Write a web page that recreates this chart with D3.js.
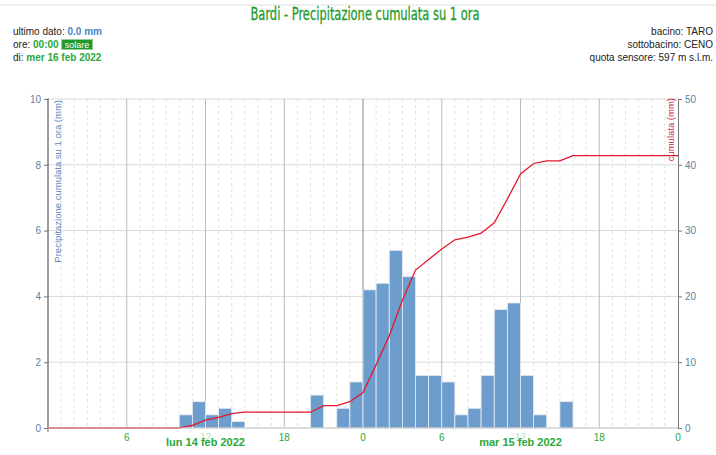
<!DOCTYPE html>
<html>
<head>
<meta charset="utf-8">
<script src="https://cdn.jsdelivr.net/npm/d3@7"></script>
<style>
  body { margin: 0; background: #fff; font-family: "Liberation Sans", Arial, sans-serif; }
  svg { display: block; }
</style>
</head>
<body>
<svg id="chart" width="716" height="455"></svg>
<script>
// hourly rain (mm), starting lun 14 feb 2022 00:00
var precip = [
  0, 0, 0, 0, 0, 0, 0, 0, 0, 0, 0.4, 0.8, 0.4, 0.6, 0.2, 0, 0, 0, 0, 0, 1.0, 0, 0.6, 1.4,
  4.2, 4.4, 5.4, 4.6, 1.6, 1.6, 1.4, 0.4, 0.6, 1.6, 3.6, 3.8, 1.6, 0.4, 0, 0.8, 0, 0, 0, 0, 0, 0, 0, 0
];
var startDay = new Date(2022, 1, 14, 0, 0);
var endDay = new Date(2022, 1, 16, 0, 0);
var dayLabels = ['lun 14 feb 2022', 'mar 15 feb 2022'];
var leftTicks = [0, 2, 4, 6, 8, 10];
var rightTicks = [0, 10, 20, 30, 40, 50];

var svg = d3.select('#chart');
var pLeft = 48, pRight = 678, pTop = 99, pBottom = 428;
var green = '#2aa83a', axisBlue = '#5f7f9f', gridC = '#d9d9d9';

var x = d3.scaleTime().domain([startDay, endDay]).range([pLeft, pRight]);
var y = d3.scaleLinear().domain([0, 10]).range([pBottom, pTop]);
var y2 = d3.scaleLinear().domain([0, 50]).range([pBottom, pTop]);

var hourTime = function(i) { return d3.timeHour.offset(startDay, i); };

// top rule
svg.append('line').attr('x1', 0).attr('x2', 716).attr('y1', 5).attr('y2', 5)
  .attr('stroke', '#ddd');

// title
svg.append('text').attr('x', 365).attr('y', 20).attr('text-anchor', 'middle')
  .attr('fill', '#1f9a2a').attr('stroke', '#1f9a2a').attr('stroke-width', 0.3)
  .style('font-family', '"DejaVu Sans Condensed", "Liberation Sans Narrow", sans-serif')
  .style('font-size', '18px')
  .attr('textLength', 229).attr('lengthAdjust', 'spacingAndGlyphs')
  .text('Bardi - Precipitazione cumulata su 1 ora');

// header left
var hl = svg.append('g').style('font-size', '10px');
var t1 = hl.append('text').attr('x', 13).attr('y', 35);
t1.append('tspan').attr('fill', '#222').text('ultimo dato: ');
t1.append('tspan').attr('fill', '#4a86c5').style('font-weight', 'bold').text('0.0 mm');
var t2 = hl.append('text').attr('x', 13).attr('y', 48);
t2.append('tspan').attr('fill', '#222').text('ore: ');
t2.append('tspan').attr('fill', green).style('font-weight', 'bold').text('00:00');
var bx = 13 + t2.node().getComputedTextLength() + 3;
hl.append('rect').attr('x', bx).attr('y', 39.5).attr('width', 31).attr('height', 10)
  .attr('fill', '#1f9a2a').attr('stroke', '#9c9').attr('stroke-width', 1);
hl.append('text').attr('x', bx + 15.5).attr('y', 47.5).attr('text-anchor', 'middle')
  .attr('fill', '#fff').style('font-size', '9px').text('solare');
var t3 = hl.append('text').attr('x', 13).attr('y', 61);
t3.append('tspan').attr('fill', '#222').text('di: ');
t3.append('tspan').attr('fill', green).style('font-weight', 'bold').text('mer 16 feb 2022');

// header right
var hr = svg.append('g').style('font-size', '10px').attr('fill', '#222').attr('text-anchor', 'end');
hr.append('text').attr('x', 713).attr('y', 35).text('bacino: TARO');
hr.append('text').attr('x', 713).attr('y', 48).text('sottobacino: CENO');
hr.append('text').attr('x', 713).attr('y', 61).text('quota sensore: 597 m s.l.m.');

// grid
var g = svg.append('g');
g.selectAll('line.hgrid').data(leftTicks).enter().append('line')
  .attr('x1', pLeft).attr('x2', pRight)
  .attr('y1', function(d) { return y(d); }).attr('y2', function(d) { return y(d); })
  .attr('stroke', gridC).attr('stroke-width', 1);
g.selectAll('line.hour').data(d3.timeHour.range(startDay, endDay)).enter().append('line')
  .attr('x1', function(d) { return x(d); }).attr('x2', function(d) { return x(d); })
  .attr('y1', pTop).attr('y2', pBottom)
  .attr('stroke', function(d) { return d.getHours() % 6 === 0 ? (d.getHours() === 0 ? '#888' : '#bbb') : '#e2e2e2'; })
  .attr('stroke-dasharray', function(d) { return d.getHours() % 6 === 0 ? null : '3,3'; })
  .attr('stroke-width', 1);

// bars
var bars = svg.append('g');
precip.forEach(function(v, i) {
  if (v <= 0) return;
  bars.append('rect')
    .attr('x', x(hourTime(i)))
    .attr('y', y(v))
    .attr('width', x(hourTime(i + 1)) - x(hourTime(i)))
    .attr('height', y(0) - y(v))
    .attr('fill', '#6d9dcc')
    .attr('stroke', '#e8eef5').attr('stroke-width', 0.8);
});

// cumulative line
var cum = [0].concat(Array.from(d3.cumsum(precip)));
var line = d3.line()
  .x(function(d, i) { return x(hourTime(i)); })
  .y(function(d) { return y2(d); });
svg.append('path').datum(cum).attr('d', line)
  .attr('fill', 'none').attr('stroke', '#e3172b').attr('stroke-width', 1.3);

// axes
var leftAxis = svg.append('g').attr('transform', 'translate(' + pLeft + ',0)')
  .call(d3.axisLeft(y).tickValues(leftTicks).tickSize(4).tickSizeOuter(0));
var rightAxis = svg.append('g').attr('transform', 'translate(' + pRight + ',0)')
  .call(d3.axisRight(y2).tickValues(rightTicks).tickSize(4).tickSizeOuter(0));
[leftAxis, rightAxis].forEach(function(a) {
  a.select('.domain').attr('stroke', '#777');
  a.selectAll('.tick line').attr('stroke', '#777');
  a.selectAll('.tick text').attr('fill', axisBlue).style('font-size', '10px')
    .style('font-family', '"Liberation Sans", Arial, sans-serif');
});
leftAxis.select('.domain').attr('d', 'M0,' + (pTop - 1) + 'V' + (pBottom + 4));

// bottom line
svg.append('line').attr('x1', pLeft).attr('x2', pRight).attr('y1', pBottom).attr('y2', pBottom)
  .attr('stroke', '#ccc');

// x tick labels
var xTicks = d3.timeHour.every(6).range(d3.timeHour.offset(startDay, 6), d3.timeHour.offset(endDay, 1));
svg.append('g').selectAll('text').data(xTicks).enter().append('text')
  .attr('x', function(d) { return x(d); }).attr('y', 441)
  .attr('text-anchor', 'middle').attr('fill', green)
  .attr('opacity', function(d) { return d.getHours() === 12 ? 0.35 : 1; })
  .style('font-size', '10px')
  .text(d3.timeFormat('%-H'));

svg.append('g').selectAll('text').data(dayLabels).enter().append('text')
  .attr('x', function(d, i) { return x(d3.timeHour.offset(startDay, 24 * i + 12)); })
  .attr('y', 446).attr('text-anchor', 'middle').attr('fill', green)
  .style('font-size', '11px').style('font-weight', 'bold')
  .text(function(d) { return d; });

// axis titles
svg.append('text').attr('transform', 'translate(61,' + (pTop + 1) + ') rotate(-90)')
  .attr('text-anchor', 'end').attr('fill', '#5b87b8').style('font-size', '9.5px')
  .text('Precipitazione cumulata su 1 ora (mm)');
svg.append('text').attr('transform', 'translate(674,' + (pTop - 1) + ') rotate(-90)')
  .attr('text-anchor', 'end').attr('fill', '#c9283a').style('font-size', '9.5px')
  .text('cumulata (mm)');
</script>
</body>
</html>
